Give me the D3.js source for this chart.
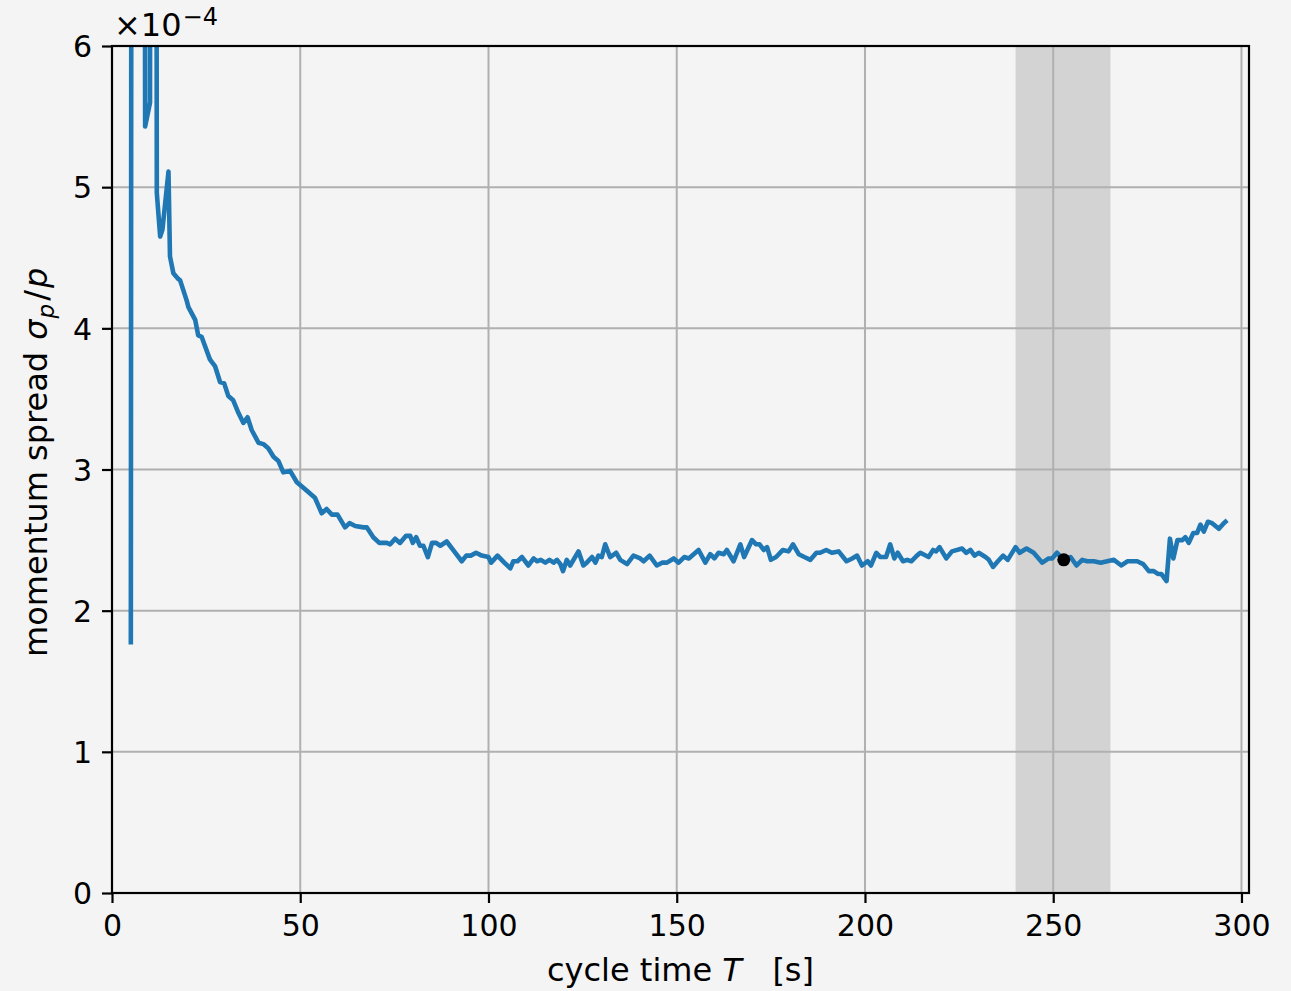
<!DOCTYPE html>
<html>
<head>
<meta charset="utf-8">
<script src="https://cdn.jsdelivr.net/npm/d3@7"></script>
<style>
  body { margin: 0; background: #f4f4f4; }
  text { font-family: "DejaVu Sans", sans-serif; fill: #000; }
</style>
</head>
<body>
<div id="chart"></div>
<script>

// cycle time T [s]
var cycleTime = [
    5, 6, 7, 8, 8.8, 10.1, 10.6, 11.3, 11.9, 12.8, 13.4, 15.0, 15.4, 16.3, 17.6, 18.1, 19.8, 20.3,
    22.1, 22.9, 23.8, 26.0, 27.4, 28.7, 29.8, 30.9, 32.2, 33.6, 34.9, 36.0, 37.1, 38.9, 40.2, 41.5,
    42.9, 44.2, 45.5, 47.3, 49.1, 51.3, 53.9, 55.7, 57.0, 58.4, 59.9, 61.9, 63.1, 64.6, 66.8, 67.7,
    69.4, 71.0, 73.0, 73.9, 75.2, 76.5, 78.1, 79.2, 79.9, 80.8, 81.8, 82.7, 83.9, 85.0, 86.1, 87.2,
    88.9, 90.9, 92.9, 94.1, 95.3, 96.7, 98.2, 100.0, 100.7, 102.4, 104.2, 105.8, 106.6, 107.7, 108.9,
    110.6, 112.0, 112.9, 113.9, 115.1, 116.2, 117.3, 118.2, 119.1, 119.8, 120.8, 121.7, 123.9, 125.2,
    126.1, 127.5, 128.4, 129.2, 130.1, 131.0, 132.3, 133.9, 135.0, 136.8, 138.5, 140.3, 141.2, 142.8,
    144.7, 146.1, 147.4, 149.2, 150.5, 152.0, 153.2, 155.8, 157.6, 158.9, 160.0, 161.1, 162.5, 163.3,
    165.1, 166.9, 167.9, 170.0, 171.1, 172.0, 173.1, 174.0, 175.0, 176.4, 178.2, 179.7, 180.9, 182.4,
    183.9, 185.5, 187.1, 188.1, 189.7, 191.2, 193.0, 195.1, 196.6, 197.9, 199.2, 200.7, 201.6, 203.0,
    204.1, 205.6, 206.7, 207.8, 208.7, 210.1, 211.2, 212.3, 213.8, 214.7, 216.9, 218.1, 218.9, 219.8,
    221.6, 223.1, 225.8, 226.9, 228.0, 229.1, 230.2, 232.0, 232.9, 234.0, 235.3, 236.7, 237.9, 240.0,
    241.1, 242.9, 244.8, 247.1, 248.8, 249.7, 251.0, 252.8, 254.6, 256.2, 257.7, 259.0, 260.8, 262.6,
    266.1, 268.1, 269.7, 272.3, 273.9, 275.4, 276.7, 277.8, 278.7, 280.1, 281.0, 281.9, 283.0, 284.3,
    285.1, 286.0, 287.2, 288.2, 289.1, 290.0, 291.1, 292.2, 294.0, 295.3, 296.2
];

// momentum spread sigma_p/p, in units of 1e-4 (values above 6 leave the plot)
var momentumSpread = [
    1.76, 40, 30, 20, 5.43, 5.60, 25, 20, 4.96, 4.65, 4.70, 5.11, 4.51, 4.39, 4.35, 4.34, 4.20, 4.15,
    4.06, 3.95, 3.94, 3.78, 3.73, 3.62, 3.61, 3.52, 3.49, 3.40, 3.33, 3.37, 3.28, 3.19, 3.18, 3.15,
    3.09, 3.06, 2.98, 2.99, 2.91, 2.86, 2.80, 2.69, 2.72, 2.68, 2.68, 2.59, 2.62, 2.60, 2.59, 2.59,
    2.52, 2.48, 2.48, 2.47, 2.51, 2.48, 2.53, 2.53, 2.48, 2.52, 2.46, 2.46, 2.38, 2.48, 2.48, 2.46,
    2.49, 2.42, 2.35, 2.39, 2.39, 2.41, 2.39, 2.38, 2.34, 2.39, 2.34, 2.30, 2.35, 2.35, 2.38,
    2.32, 2.37, 2.35, 2.36, 2.34, 2.36, 2.34, 2.36, 2.33, 2.28, 2.36, 2.32, 2.42, 2.32,
    2.34, 2.38, 2.34, 2.39, 2.38, 2.47, 2.38, 2.41, 2.36, 2.33, 2.39, 2.37, 2.35, 2.39,
    2.32, 2.34, 2.34, 2.37, 2.34, 2.38, 2.37, 2.43, 2.34, 2.40, 2.37, 2.41, 2.40, 2.43,
    2.35, 2.47, 2.38, 2.50, 2.47, 2.47, 2.43, 2.45, 2.36, 2.38, 2.43, 2.42, 2.47, 2.40,
    2.38, 2.36, 2.41, 2.41, 2.43, 2.41, 2.42, 2.35, 2.37, 2.39, 2.32, 2.35, 2.32, 2.41,
    2.38, 2.38, 2.47, 2.37, 2.41, 2.35, 2.36, 2.35, 2.39, 2.41, 2.38, 2.43, 2.42, 2.45,
    2.37, 2.42, 2.44, 2.41, 2.43, 2.39, 2.41, 2.38, 2.36, 2.31, 2.35, 2.39, 2.36, 2.45,
    2.41, 2.44, 2.41, 2.34, 2.37, 2.37, 2.41, 2.36, 2.38, 2.32, 2.36, 2.35, 2.35, 2.34,
    2.36, 2.32, 2.35, 2.35, 2.33, 2.28, 2.28, 2.26, 2.26, 2.21, 2.51, 2.37, 2.50, 2.50,
    2.52, 2.48, 2.55, 2.55, 2.61, 2.56, 2.63, 2.62, 2.58, 2.62, 2.64
];

var xTicks = [0, 50, 100, 150, 200, 250, 300];
var yTicks = [0, 1, 2, 3, 4, 5, 6];

// shaded window and the highlighted point
var bandRange = [240, 265.2];
var markerPoint = [252.8, 2.36];


function main() {

    // set the dimensions and margins of the graph
    var margin = {top: 46, right: 42, bottom: 98, left: 112},
        width = 1291 - margin.left - margin.right,
        height = 991 - margin.top - margin.bottom;

    var svg = d3.select("#chart")
        .append("svg")
        .attr("width", 1291)
        .attr("height", 991)
        .style("background", "#f4f4f4");

    var g = svg.append("g")
        .attr("transform", "translate(" + margin.left + "," + margin.top + ")");

    var x = d3.scaleLinear().domain([0, 302]).range([0, width]);
    var y = d3.scaleLinear().domain([0, 6]).range([height, 0]);

    // clip everything to the axes box
    svg.append("defs").append("clipPath")
        .attr("id", "plot-clip")
        .append("rect")
        .attr("width", width)
        .attr("height", height);

    // shaded band
    g.append("rect")
        .attr("x", x(bandRange[0]))
        .attr("y", 0)
        .attr("width", x(bandRange[1]) - x(bandRange[0]))
        .attr("height", height)
        .style("fill", "#d3d3d3");

    // grid lines
    g.append("g")
        .selectAll("line")
        .data(xTicks)
        .join("line")
        .attr("x1", d => x(d)).attr("x2", d => x(d))
        .attr("y1", 0).attr("y2", height)
        .style("stroke", "#b0b0b0")
        .style("stroke-width", 2);
    g.append("g")
        .selectAll("line")
        .data(yTicks)
        .join("line")
        .attr("x1", 0).attr("x2", width)
        .attr("y1", d => y(d)).attr("y2", d => y(d))
        .style("stroke", "#b0b0b0")
        .style("stroke-width", 2);

    // the data line
    var points = cycleTime.map(function (t, i) { return [t, momentumSpread[i]]; });
    var line = d3.line()
        .x(d => x(d[0]))
        .y(d => y(d[1]));

    g.append("path")
        .datum(points)
        .attr("clip-path", "url(#plot-clip)")
        .attr("d", line)
        .style("fill", "none")
        .style("stroke", "#1f77b4")
        .style("stroke-width", 4.6)
        .style("stroke-linejoin", "round")
        .style("stroke-linecap", "butt");

    // marker
    g.append("circle")
        .attr("cx", x(markerPoint[0]))
        .attr("cy", y(markerPoint[1]))
        .attr("r", 6.5)
        .style("fill", "#000");

    // axes
    var xAxis = g.append("g")
        .attr("transform", "translate(0," + height + ")")
        .call(d3.axisBottom(x).tickValues(xTicks).tickSize(10).tickPadding(11));
    var yAxis = g.append("g")
        .call(d3.axisLeft(y).tickValues(yTicks).tickFormat(d3.format("d")).tickSize(10).tickPadding(10));

    [xAxis, yAxis].forEach(function (ax) {
        ax.select(".domain").remove();
        ax.selectAll(".tick line").style("stroke", "#000").style("stroke-width", 2.2);
        ax.selectAll(".tick text")
            .style("font-family", "DejaVu Sans")
            .style("font-size", "30px")
            .style("fill", "#000");
    });
    yAxis.selectAll(".tick text").attr("dy", "0.36em");
    xAxis.selectAll(".tick text").attr("dy", "0.73em");

    // spines
    g.append("rect")
        .attr("width", width)
        .attr("height", height)
        .style("fill", "none")
        .style("stroke", "#000")
        .style("stroke-width", 2.2);

    // offset text x10^-4
    var offset = svg.append("text")
        .attr("x", 114)
        .attr("y", 36)
        .style("font-size", "32px");
    offset.append("tspan").text("\u00d710");
    offset.append("tspan")
        .attr("dx", 1)
        .attr("dy", -11)
        .style("font-size", "24px")
        .text("\u22124");

    // x axis label
    var xLabel = svg.append("text")
        .attr("x", margin.left + width / 2)
        .attr("y", 981)
        .attr("text-anchor", "middle")
        .style("font-size", "32px")
        .style("white-space", "pre");
    xLabel.append("tspan").text("cycle time ");
    xLabel.append("tspan").style("font-style", "italic").text("T");
    xLabel.append("tspan").text("   [s]");

    // y axis label
    var yLabel = svg.append("text")
        .attr("transform", "translate(47,657) rotate(-90)")
        .attr("text-anchor", "start")
        .style("font-size", "32px");
    yLabel.append("tspan").text("momentum spread ");
    yLabel.append("tspan").style("font-style", "italic").attr("dx", 2).text("\u03c3");
    yLabel.append("tspan").style("font-style", "italic").style("font-size", "23px")
        .attr("dx", 1).attr("dy", 7).text("p");
    yLabel.append("tspan").attr("dx", 3).attr("dy", -7).text("/");
    yLabel.append("tspan").style("font-style", "italic").attr("dx", 2).text("p");

}

main()
</script>
</body>
</html>
